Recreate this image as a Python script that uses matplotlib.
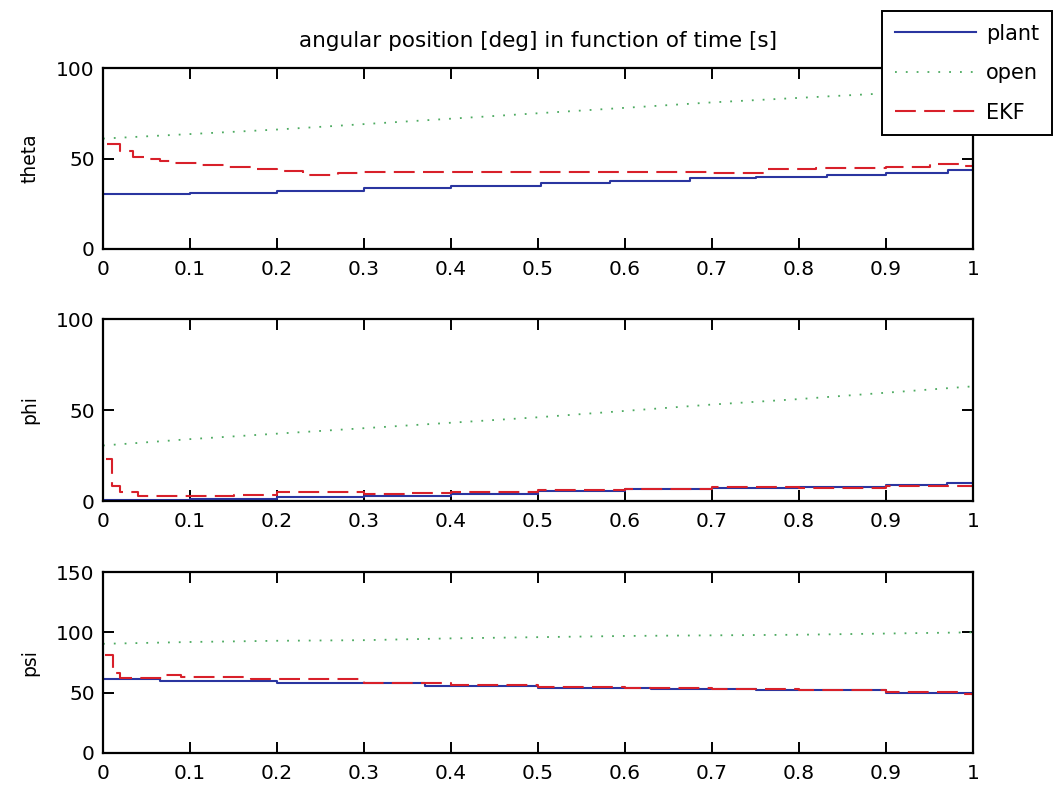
import numpy as np
import matplotlib
matplotlib.use("Agg")
import matplotlib.pyplot as plt

plt.rcParams["font.family"] = ["DejaVu Sans"]

# ---- data (time [s], angle [deg]) ----
theta_plant_t = [0.0, 0.10, 0.20, 0.30, 0.40, 0.503, 0.583, 0.675, 0.75, 0.832, 0.90, 0.971, 1.0]
theta_plant = [30.5, 31.0, 32.0, 33.5, 35.0, 36.5, 37.3, 39.0, 40.0, 41.0, 42.0, 43.5, 43.5]
theta_open_t = [0.0, 0.1, 0.2, 0.3, 0.4, 0.5, 0.6, 0.7, 0.8, 0.9, 1.0]
theta_open = [61.0, 63.5, 66.0, 69.0, 72.0, 75.0, 78.0, 81.0, 83.5, 86.0, 88.0]
theta_ekf_t = [0.005, 0.02, 0.035, 0.05, 0.065, 0.08, 0.11, 0.14, 0.17, 0.20, 0.23,
               0.27, 0.30, 0.40, 0.50, 0.60, 0.70, 0.76, 0.82, 0.90, 0.95, 0.99, 1.0]
theta_ekf = [58.0, 54.0, 51.0, 50.0, 48.5, 47.5, 46.5, 45.5, 44.0, 43.0, 41.0,
             42.0, 42.3, 42.5, 42.3, 42.5, 42.0, 44.0, 44.5, 45.5, 47.0, 46.0, 49.0]

phi_plant_t = [0.0, 0.1, 0.2, 0.3, 0.4, 0.5, 0.6, 0.7, 0.8, 0.9, 0.97, 1.0]
phi_plant = [0.5, 1.2, 2.0, 2.5, 4.0, 5.5, 6.5, 7.0, 7.8, 8.8, 10.0, 10.0]
phi_open_t = [0.0, 0.1, 0.2, 0.3, 0.4, 0.5, 0.6, 0.7, 0.8, 0.9, 1.0]
phi_open = [30.5, 34.0, 37.0, 40.0, 43.0, 46.0, 49.5, 53.0, 56.0, 59.5, 63.0]
phi_ekf_t = [0.003, 0.01, 0.02, 0.04, 0.10, 0.15, 0.20, 0.30, 0.35, 0.40, 0.50,
             0.60, 0.70, 0.80, 0.90, 1.0]
phi_ekf = [23.0, 8.0, 5.0, 3.0, 3.0, 3.5, 5.0, 4.0, 4.5, 5.0, 6.0,
           6.5, 7.5, 7.0, 8.5, 9.5]

psi_plant_t = [0.0, 0.066, 0.20, 0.37, 0.50, 0.63, 0.75, 0.90, 1.0]
psi_plant = [61.0, 59.5, 58.0, 55.5, 54.0, 53.0, 52.0, 49.5, 49.0]
psi_open_t = [0.0, 0.1, 0.2, 0.3, 0.4, 0.5, 0.6, 0.7, 0.8, 0.9, 1.0]
psi_open = [90.5, 92.0, 93.0, 93.5, 95.0, 96.0, 97.0, 97.5, 98.0, 99.0, 100.0]
psi_ekf_t = [0.002, 0.012, 0.02, 0.06, 0.07, 0.09, 0.17, 0.30, 0.40, 0.50, 0.60,
             0.70, 0.80, 0.90, 0.99, 1.0]
psi_ekf = [81.0, 66.0, 62.0, 62.0, 64.5, 63.0, 61.0, 58.0, 56.0, 55.0, 53.5,
           53.0, 52.0, 50.5, 49.0, 47.0]

panels = [
    ("theta", [0, 100], [0, 50, 100], theta_plant_t, theta_plant, theta_open_t, theta_open, theta_ekf_t, theta_ekf),
    ("phi", [0, 100], [0, 50, 100], phi_plant_t, phi_plant, phi_open_t, phi_open, phi_ekf_t, phi_ekf),
    ("psi", [0, 150], [0, 50, 100, 150], psi_plant_t, psi_plant, psi_open_t, psi_open, psi_ekf_t, psi_ekf),
]
xticks = [0, 0.1, 0.2, 0.3, 0.4, 0.5, 0.6, 0.7, 0.8, 0.9, 1]
xticklabels = ["0", "0.1", "0.2", "0.3", "0.4", "0.5", "0.6", "0.7", "0.8", "0.9", "1"]

W, H = 1054, 790
fig = plt.figure(figsize=(W / 100, H / 100), dpi=100)

# axes boxes in pixels (top, bottom)
boxes = [(68, 249), (319, 501), (572, 753)]
left, right = 103, 973

handles = None
for (top, bot), (name, ylim, yticks, pt, pv, ot, ov, et, ev) in zip(boxes, panels):
    ax = fig.add_axes([left / W, 1 - bot / H, (right - left) / W, (bot - top) / H])
    l1, = ax.plot(pt, pv, color="#2a35a0", lw=1.5, drawstyle="steps-post")
    l2, = ax.plot(ot, ov, color="#4caa60", lw=1.3, ls=(0, (1, 5)))
    l3, = ax.plot(et, ev, color="#d8202a", lw=1.5, ls=(0, (10, 4)), drawstyle="steps-post")
    handles = [l1, l2, l3]
    ax.set_xlim(0, 1)
    ax.set_ylim(*ylim)
    ax.set_xticks(xticks)
    ax.set_xticklabels(xticklabels)
    ax.set_yticks(yticks)
    ax.tick_params(direction="in", length=8, width=1.4, top=True, right=True,
                   labelsize=14.5, pad=6)
    ax.tick_params(axis="x", pad=8)
    for s in ax.spines.values():
        s.set_linewidth(1.6)
    ax.set_ylabel(name, fontsize=13.5)
    ax.yaxis.set_label_coords(-0.073, 0.5)
    if name == "theta":
        ax.set_title("angular position [deg] in function of time [s]", fontsize=15.5, pad=15)

fig.legend(handles, ["plant", "open", "EKF"], loc="upper right",
           bbox_to_anchor=(1052 / W, 1 - 11 / H), borderaxespad=0,
           fontsize=15, fancybox=False, framealpha=1, edgecolor="black",
           handlelength=3.9, handletextpad=0.5, labelspacing=0.94, borderpad=0.6)
fig.legends[0].get_frame().set_linewidth(1.4)

fig.savefig("out.png", dpi=100)
